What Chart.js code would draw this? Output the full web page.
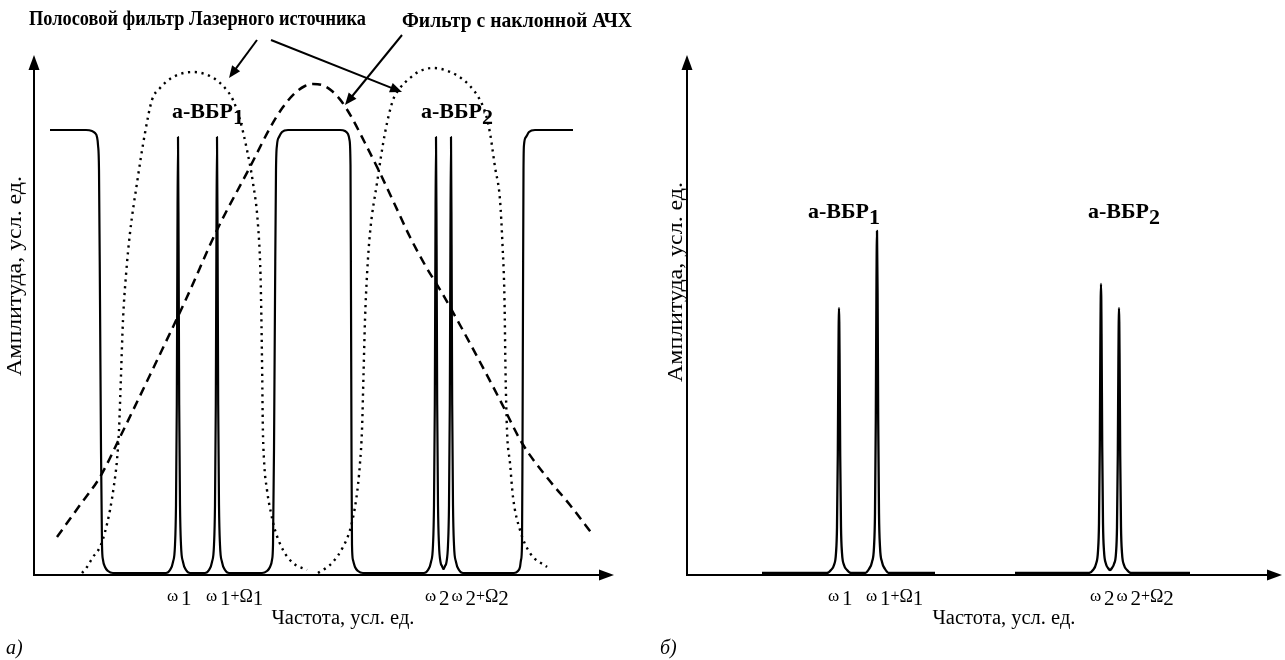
<!DOCTYPE html>
<html>
<head>
<meta charset="utf-8">
<script src="https://cdn.jsdelivr.net/npm/chart.js@4.4.1/dist/chart.umd.min.js"></script>
<style>
html,body{margin:0;padding:0;background:#fff;}
#wrap{position:relative;width:1285px;height:660px;overflow:hidden;}
canvas{position:absolute;top:0;}
#cA{left:0;}
#cB{left:645px;}
</style>
</head>
<body>
<div id="wrap">
<canvas id="cA" width="640" height="660"></canvas>
<canvas id="cB" width="640" height="660"></canvas>
</div>
<script>
// ===== DATA (conditional units: x = frequency, y = amplitude) =====
// Panel а): spectrum with band filter edges and a-ВБР peaks (solid)
const spectrumA = [[16,445],[52,445],[58,444],[61,442],[63,438],[64,430],[65,405],[66,275],[67,125],[68,30],[69,15],[71,8],[74,4],[79,2],
[132,2],[136,5],[139,13],[141,30],[142,70],[142.8,170],[143.4,330],[144,438],[144.6,330],[145.2,170],[146,70],[147,30],[149,13],[152,5],[156,2],
[171,2],[175,5],[178,13],[180,30],[181,70],[181.8,170],[182.4,330],[183,438],[183.6,330],[184.2,170],[185,70],[186,30],[188,13],[191,5],[195,2],
[228,2],[233,4],[236,8],[238,15],[239,30],[240,125],[241,275],[242,405],[243,430],[245,438],[248,443],[254,445],
[306,445],[311,444],[314,441],[315.5,435],[316.5,410],[317,275],[317.5,125],[318,30],[319,15],[321,8],[324,4],[329,2],
[390,2],[394,5],[397,13],[399,30],[400,70],[400.8,170],[401.4,330],[402,438],[402.6,330],[403.2,170],[404,70],[405,30],[406.5,13],[408,9],[409.5,6],[411,9],[412.5,13],[414,30],[415,70],[415.8,170],[416.4,330],[417,438],[417.6,330],[418.2,170],[419,70],[420,30],[422,13],[425,5],[429,2],
[480,2],[484,4],[486,8],[487,15],[488,30],[488.5,125],[489,275],[489.5,405],[490,430],[492,438],[495,443],[501,445],[539,445]];

// Panel а): laser source band-pass filters (dotted)
const laserFilter1A = [[48,2],[53,8],[59,18],[66,28],[71,43],[76,65],[80,90],[83,115],[85,145],[87,200],[89,255],[92,300],[96,342],[103,392],[111,442],[118,475],[126,487],[136,496],[146,501],[159,503],[171,501],[181,496],[191,487],[199,475],[206,455],[213,425],[219,392],[224,350],[226.5,300],[227.5,250],[228.2,200],[228.8,150],[230,115],[233,85],[237,62],[241,45],[249,25],[259,12],[273,5]];
const laserFilter2A = [[284,2],[292,7],[299,13],[309,28],[316,45],[321,68],[324,90],[326,112],[328,145],[329.5,200],[331,255],[333,300],[336,342],[343,392],[351,442],[359,475],[366,487],[376,497],[386,504],[399,507],[411,505],[424,499],[436,489],[446,475],[452,460],[456,442],[461,408],[466,375],[468.5,330],[470.5,275],[471.5,205],[473,145],[476,112],[479,78],[486,45],[496,22],[513,8]];

// Panel а): filter with sloped frequency response (dashed)
const slopeFilterA = [[23,38],[46,70],[66,98],[88,142],[116,200],[153,278],[183,345],[216,408],[236,447],[249,468],[261,482],[271,489],[279,491],[288,490],[298,484],[308,473],[318,457],[331,432],[346,402],[361,370],[376,338],[391,310],[408,282],[426,250],[446,213],[466,175],[488,132],[511,100],[536,70],[559,40]];

const tickPosA = [144, 183, 402, 417];
const tickLabelsA = ['ω1', 'ω1+Ω1', 'ω2', 'ω2+Ω2'];

// Panel б): filtered spectrum (solid)
const spectrumB1 = [[75,2],[140,2],[144,5],[147,10],[149,22],[150,48],[150.8,120],[151.4,215],[152,267],[152.6,215],[153.2,120],[154,48],[155,22],[157,10],[160,5],[164,2],
[178,2],[182,6],[185,13],[187,28],[188,62],[188.8,155],[189.4,280],[190,344],[190.6,280],[191.2,155],[192,62],[193,28],[195,13],[198,6],[202,2],[248,2]];
const spectrumB2 = [[328,2],[402,2],[406,5],[409,11],[411,24],[412,52],[412.8,130],[413.4,235],[414,291],[414.6,235],[415.2,130],[416,52],[417,24],[419,11],[421,7],[423,5],[425,7],[427,11],[429,22],[430,48],[430.8,120],[431.4,215],[432,267],[432.6,215],[433.2,120],[434,48],[435,22],[437,10],[440,5],[444,2],[503,2]];

const tickPosB = [152, 190, 414, 432];
const tickLabelsB = ['ω1', 'ω1+Ω1', 'ω2', 'ω2+Ω2'];

const yTitle = 'Амплитуда, усл. ед.';
const xTitle = 'Частота, усл. ед.';
const fbgLabel = 'а-ВБР';

// ===== DRAWING HELPERS =====
const SERIF = '"Liberation Serif", "Times New Roman", serif';

function arrowHead(ctx, x1, y1, x2, y2, len, half) {
  const a = Math.atan2(y2 - y1, x2 - x1);
  const bx = x2 - len * Math.cos(a), by = y2 - len * Math.sin(a);
  ctx.beginPath();
  ctx.moveTo(x2, y2);
  ctx.lineTo(bx + half * Math.sin(a), by - half * Math.cos(a));
  ctx.lineTo(bx - half * Math.sin(a), by + half * Math.cos(a));
  ctx.closePath();
  ctx.fill();
}
function arrowLine(ctx, x1, y1, x2, y2, w, len, half) {
  const a = Math.atan2(y2 - y1, x2 - x1);
  ctx.lineWidth = w;
  ctx.beginPath();
  ctx.moveTo(x1, y1);
  ctx.lineTo(x2 - (len - 2) * Math.cos(a), y2 - (len - 2) * Math.sin(a));
  ctx.stroke();
  arrowHead(ctx, x1, y1, x2, y2, len, half);
}
function drawAxes(ctx, xs, ys) {
  ctx.save();
  ctx.strokeStyle = '#000'; ctx.fillStyle = '#000';
  const x0 = xs.left, y0 = ys.bottom;
  arrowLine(ctx, x0, y0, xs.right, y0, 2, 15, 5.5);
  arrowLine(ctx, x0, y0 + 1, x0, ys.top, 2, 15, 5.5);
  ctx.restore();
}
function labelSegments(label) {
  const segs = [];
  for (const ch of label) {
    if (ch === 'ω') { segs.push({t: 'ω', s: 17, dy: -4}); segs.push({t: ' ', s: 11, dy: 0}); }
    else if (ch === '+') segs.push({t: '+', s: 16, dy: -4});
    else if (ch === 'Ω') segs.push({t: 'Ω', s: 18, dy: -3});
    else segs.push({t: ch, s: 21, dy: 0});
  }
  return segs;
}
function richText(ctx, x, y, segs, bold) {
  let cx = x;
  for (const s of segs) {
    ctx.font = (bold ? 'bold ' : '') + s.s + 'px ' + SERIF;
    ctx.fillText(s.t, cx, y + s.dy);
    cx += ctx.measureText(s.t).width;
  }
  return cx;
}
function drawTicks(ctx, xs, pos, labels, baseY, offset) {
  ctx.save();
  ctx.fillStyle = '#000'; ctx.textBaseline = 'alphabetic'; ctx.textAlign = 'left';
  let prevEnd = -1e9;
  pos.forEach((p, i) => {
    const px = xs.getPixelForValue(p);
    const start = Math.max(px - offset, prevEnd + 2);
    prevEnd = richText(ctx, start, baseY, labelSegments(labels[i]), false);
  });
  ctx.restore();
}
function fitText(ctx, text, x, y, font, width, rot, align) {
  ctx.save();
  ctx.font = font;
  ctx.textAlign = align || 'left';
  const w = ctx.measureText(text).width;
  ctx.translate(x, y);
  if (rot) ctx.rotate(rot);
  ctx.scale(width / w, 1);
  ctx.fillText(text, 0, 0);
  ctx.restore();
}
function fbg(ctx, xs, ys, xv, yv, idx) {
  const x = xs.getPixelForValue(xv), y = ys.getPixelForValue(yv);
  ctx.save();
  ctx.fillStyle = '#000'; ctx.textAlign = 'left'; ctx.textBaseline = 'alphabetic';
  ctx.font = 'bold 22px ' + SERIF;
  ctx.fillText(fbgLabel, x, y);
  const w = ctx.measureText(fbgLabel).width;
  ctx.fillText(String(idx), x + w, y + 6);
  ctx.restore();
}
function yAxisTitle(ctx, cx, cy) {
  ctx.save();
  ctx.fillStyle = '#000'; ctx.textBaseline = 'middle';
  fitText(ctx, yTitle, cx, cy, '20px ' + SERIF, 200, -Math.PI / 2, 'center');
  ctx.restore();
}
function xAxisTitle(ctx, cx, by) {
  ctx.save();
  ctx.fillStyle = '#000'; ctx.textBaseline = 'alphabetic';
  fitText(ctx, xTitle, cx, by, '20px ' + SERIF, 143, 0, 'center');
  ctx.restore();
}
function panelLetter(ctx, t, x, by) {
  ctx.save();
  ctx.fillStyle = '#000'; ctx.textAlign = 'left'; ctx.textBaseline = 'alphabetic';
  ctx.font = 'italic 20px ' + SERIF;
  ctx.fillText(t, x, by);
  ctx.restore();
}

const solid = (data, w) => ({data, borderColor: '#000', borderWidth: w || 2, pointRadius: 0, fill: false,
  cubicInterpolationMode: 'monotone', clip: false, borderJoinStyle: 'round'});

function baseOptions(xmax, pad) {
  return {
    responsive: false, animation: false, events: [],
    layout: {padding: pad},
    plugins: {legend: {display: false}, tooltip: {enabled: false}, title: {display: false}},
    scales: {
      x: {type: 'linear', min: 0, max: xmax, display: false},
      y: {type: 'linear', min: 0, max: 520, display: false}
    }
  };
}

// ===== PANEL а =====
const decorA = {
  id: 'decorA',
  afterDraw(chart) {
    const ctx = chart.ctx, xs = chart.scales.x, ys = chart.scales.y;
    drawAxes(ctx, xs, ys);
    drawTicks(ctx, xs, tickPosA, tickLabelsA, 605, 11);
    yAxisTitle(ctx, 16, 276);
    xAxisTitle(ctx, 343, 624);
    panelLetter(ctx, 'а)', 6, 654);
    fbg(ctx, xs, ys, 138, 457, 1);
    fbg(ctx, xs, ys, 387, 457, 2);
    ctx.save();
    ctx.fillStyle = '#000';
    fitText(ctx, 'Полосовой фильтр Лазерного источника', 29, 25, 'bold 22px ' + SERIF, 337);
    fitText(ctx, 'Фильтр с наклонной АЧХ', 402, 27, 'bold 22px ' + SERIF, 230);
    ctx.strokeStyle = '#000';
    const arrows = [[223, 535, 195, 497], [237, 535, 368, 483], [368, 540, 311, 470]];
    arrows.forEach(a => arrowLine(ctx, xs.getPixelForValue(a[0]), ys.getPixelForValue(a[1]),
      xs.getPixelForValue(a[2]), ys.getPixelForValue(a[3]), 2, 12, 5));
    ctx.restore();
  }
};

const dotted = (data) => Object.assign(solid(data, 2.4), {borderDash: [2.2, 4.6], borderCapStyle: 'butt'});

new Chart(document.getElementById('cA'), {
  type: 'line',
  data: {
    datasets: [
      dotted(laserFilter1A),
      dotted(laserFilter2A),
      Object.assign(solid(slopeFilterA, 2.5), {borderDash: [9, 6]}),
      solid(spectrumA, 2.2)
    ]
  },
  options: baseOptions(580, {left: 34, right: 26, top: 55, bottom: 85}),
  plugins: [decorA]
});

// ===== PANEL б =====
const decorB = {
  id: 'decorB',
  afterDraw(chart) {
    const ctx = chart.ctx, xs = chart.scales.x, ys = chart.scales.y;
    drawAxes(ctx, xs, ys);
    drawTicks(ctx, xs, tickPosB, tickLabelsB, 605, 11);
    yAxisTitle(ctx, 32, 282);
    xAxisTitle(ctx, 359, 624);
    panelLetter(ctx, 'б)', 15, 654);
    fbg(ctx, xs, ys, 121, 357, 1);
    fbg(ctx, xs, ys, 401, 357, 2);
  }
};

new Chart(document.getElementById('cB'), {
  type: 'line',
  data: {
    datasets: [solid(spectrumB1, 2.3), solid(spectrumB2, 2.3)]
  },
  options: baseOptions(595, {left: 42, right: 3, top: 55, bottom: 85}),
  plugins: [decorB]
});
</script>
</body>
</html>
